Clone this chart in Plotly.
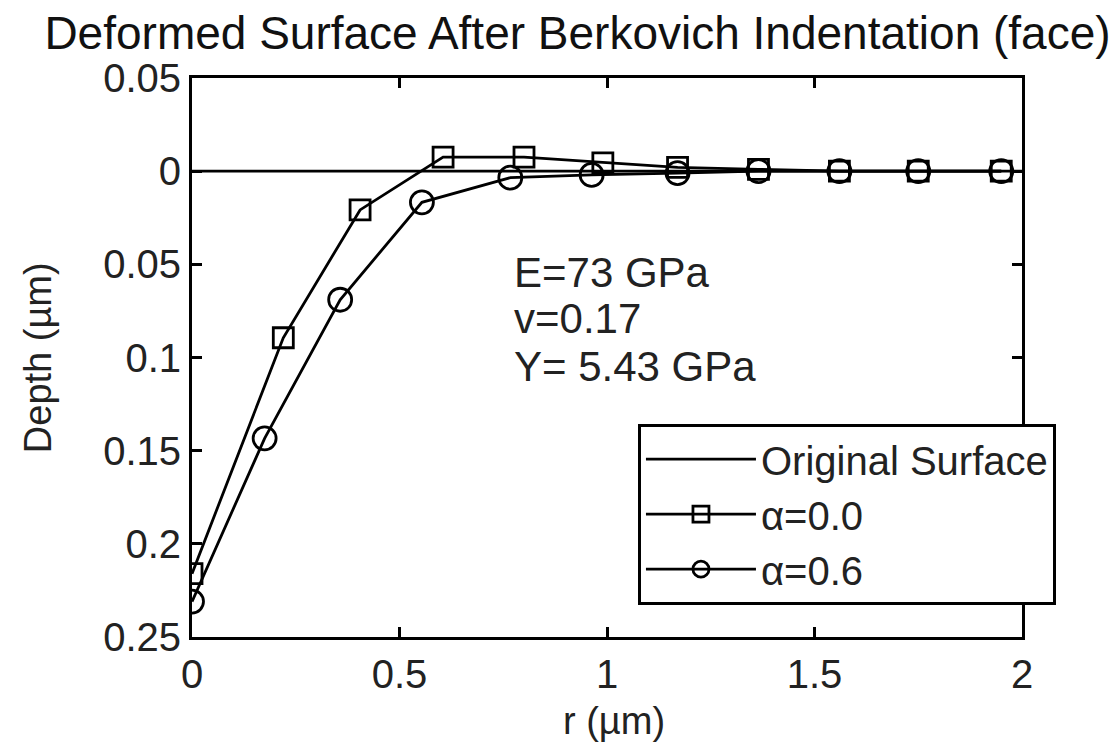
import plotly.graph_objects as go

# Data
r_a0 = [0.0, 0.22, 0.405, 0.605, 0.80, 0.99, 1.17, 1.365, 1.56, 1.75, 1.95]
d_a0 = [0.216, 0.0894, 0.0208, -0.0075, -0.0075, -0.0045, -0.002, -0.001, 0.0, 0.0, 0.0]

r_a6 = [0.0, 0.175, 0.357, 0.554, 0.767, 0.963, 1.17, 1.365, 1.56, 1.75, 1.95]
d_a6 = [0.231, 0.1434, 0.069, 0.0167, 0.0035, 0.002, 0.001, 0.0, 0.0, 0.0, 0.0]

r_orig = [0.0, 2.0]
d_orig = [0.0, 0.0]

y_tickvals = [-0.05, 0.0, 0.05, 0.1, 0.15, 0.2, 0.25]
y_ticktext = ["0.05", "0", "0.05", "0.1", "0.15", "0.2", "0.25"]
x_tickvals = [0, 0.5, 1, 1.5, 2]
x_ticktext = ["0", "0.5", "1", "1.5", "2"]

props = ["E=73 GPa", "v=0.17", "Y= 5.43 GPa"]
props_y = [0.0544, 0.0793, 0.1048]

FONT = "Liberation Sans, Arial, Helvetica, sans-serif"

fig = go.Figure()
fig.add_trace(go.Scatter(x=r_orig, y=d_orig, mode="lines", name="Original Surface",
                         line=dict(color="black", width=2.8)))
fig.add_trace(go.Scatter(x=r_a0, y=d_a0, mode="lines+markers", name="\u03b1=0.0",
                         line=dict(color="black", width=2.8),
                         marker=dict(symbol="square-open", size=20, color="black",
                                     line=dict(width=2.8, color="black"))))
fig.add_trace(go.Scatter(x=r_a6, y=d_a6, mode="lines+markers", name="\u03b1=0.6",
                         line=dict(color="black", width=2.8),
                         marker=dict(symbol="circle-open", size=23, color="black",
                                     line=dict(width=2.8, color="black"))))

for t, yv in zip(props, props_y):
    fig.add_annotation(x=0.771, y=yv, xref="x", yref="y", text=t, showarrow=False,
                       xanchor="left", yanchor="middle",
                       font=dict(family=FONT, size=42, color="#222"))

fig.add_annotation(x=(37 - 191.5) / 831, y=0.5, xref="paper", yref="paper", text="Depth (\u00b5m)",
                   showarrow=False, textangle=-90, xanchor="center", yanchor="middle",
                   font=dict(family=FONT, size=38, color="#222"))
fig.add_annotation(x=(614 - 191.5) / 831, y=-(722 - 637.5) / 559.5, xref="paper", yref="paper",
                   text="r (\u00b5m)", showarrow=False, xanchor="center", yanchor="middle",
                   font=dict(family=FONT, size=38, color="#222"))

fig.update_layout(
    width=1119, height=752,
    margin=dict(l=191.5, r=96.5, t=78, b=114.5),
    paper_bgcolor="white", plot_bgcolor="white",
    font=dict(family=FONT, size=38, color="#222"),
    title=dict(text="Deformed Surface After Berkovich Indentation (face)",
               x=(40 + 1115) / 2 / 1119, xanchor="center", y=1 - 33 / 752, yanchor="middle",
               font=dict(family=FONT, size=46, color="#111")),
    showlegend=True,
    legend=dict(x=(638 - 191.5) / 831, y=(637.5 - 424) / 559.5, xanchor="left", yanchor="top",
                bordercolor="black", borderwidth=3, bgcolor="white",
                font=dict(family=FONT, size=40, color="#222"),
                itemwidth=110, tracegroupgap=0, entrywidth=445, entrywidthmode="pixels"),
)

fig.update_xaxes(range=[0, 2], tickvals=x_tickvals, ticktext=x_ticktext,
                 showline=True, linecolor="black", linewidth=3, mirror="ticks",
                 ticks="inside", ticklen=10, tickwidth=3, tickcolor="black",
                 showgrid=False, zeroline=False,
                 tickfont=dict(family=FONT, size=40, color="#222"))
fig.update_yaxes(range=[0.25, -0.05], tickvals=y_tickvals, ticktext=y_ticktext,
                 showline=True, linecolor="black", linewidth=3, mirror="ticks",
                 ticks="inside", ticklen=10, tickwidth=3, tickcolor="black",
                 showgrid=False, zeroline=False,
                 tickfont=dict(family=FONT, size=40, color="#222"))

fig.write_html("out.html")
